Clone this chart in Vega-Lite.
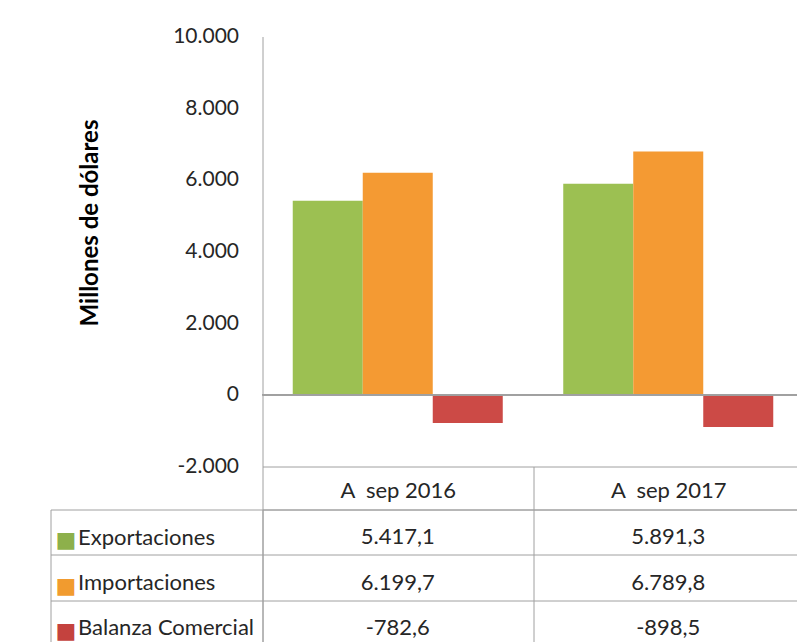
{
  "$schema": "https://vega.github.io/schema/vega-lite/v6.json",
  "autosize": {"type": "pad"},
  "padding": {"left": 49.5, "top": 25.5, "right": -7, "bottom": -4},
  "background": "white",
  "bounds": "flush",
  "spacing": 43,
  "datasets": {
    "trade": [
      {"periodo": "A\u00a0 sep 2016", "serie": "Exportaciones", "valor": 5417.1},
      {"periodo": "A\u00a0 sep 2016", "serie": "Importaciones", "valor": 6199.7},
      {"periodo": "A\u00a0 sep 2016", "serie": "Balanza Comercial", "valor": -782.6},
      {"periodo": "A\u00a0 sep 2017", "serie": "Exportaciones", "valor": 5891.3},
      {"periodo": "A\u00a0 sep 2017", "serie": "Importaciones", "valor": 6789.8},
      {"periodo": "A\u00a0 sep 2017", "serie": "Balanza Comercial", "valor": -898.5}
    ]
  },
  "vconcat": [
    {
      "width": 541,
      "height": 430,
      "view": {"stroke": null},
      "data": {"name": "trade"},
      "layer": [
        {
          "mark": {"type": "bar"},
          "encoding": {
            "x": {
              "field": "periodo", "type": "nominal",
              "scale": {"paddingInner": 0, "paddingOuter": 0},
              "axis": {
                "orient": "bottom", "title": null, "domain": true, "domainColor": "#a0a0a0",
                "ticks": true, "tickBand": "extent", "tickSize": 43, "tickColor": "#a0a0a0",
                "labelPadding": -19, "labelBaseline": "middle", "labelFontSize": 22,
                "labelColor": "#262626", "labelAngle": 0, "grid": false
              }
            },
            "xOffset": {
              "field": "serie", "type": "nominal",
              "sort": ["Exportaciones", "Importaciones", "Balanza Comercial"],
              "scale": {"paddingInner": 0, "paddingOuter": 0.432}
            },
            "y": {
              "field": "valor", "type": "quantitative",
              "scale": {"domain": [-2000, 10000], "nice": false, "zero": false},
              "axis": {
                "values": [-2000, 0, 2000, 4000, 6000, 8000, 10000],
                "format": ",.0f", "ticks": false, "domain": true, "domainColor": "#a0a0a0",
                "grid": false, "labelPadding": 24, "labelFontSize": 21, "labelColor": "#262626",
                "title": "Millones de dólares", "titleFontSize": 24, "titleFontWeight": "bold",
                "titleColor": "#000000", "titleX": -172, "titleY": 186,
                "titleBaseline": "middle", "titleAlign": "center", "titleAngle": -90
              }
            },
            "color": {
              "field": "serie", "type": "nominal",
              "scale": {
                "domain": ["Exportaciones", "Importaciones", "Balanza Comercial"],
                "range": ["#9cc052", "#f49a33", "#cc4a46"]
              },
              "legend": null
            }
          }
        },
        {
          "mark": {"type": "rule", "color": "#a0a0a0", "strokeWidth": 1.5},
          "encoding": {"y": {"datum": 0}}
        }
      ]
    },
    {
      "width": 541,
      "height": 136,
      "view": {"stroke": "#a0a0a0"},
      "data": {"name": "trade"},
      "layer": [
        {
          "mark": {"type": "text", "fontSize": 22, "color": "#262626", "dy": 5},
          "encoding": {
            "x": {
              "field": "periodo", "type": "nominal",
              "scale": {"paddingInner": 0, "paddingOuter": 0},
              "axis": {
                "orient": "top", "labels": false, "ticks": false, "domain": false,
                "title": null, "grid": true, "tickBand": "extent", "gridColor": "#a0a0a0"
              }
            },
            "y": {
              "field": "serie", "type": "nominal",
              "sort": ["Exportaciones", "Importaciones", "Balanza Comercial"],
              "scale": {"paddingInner": 0, "paddingOuter": 0},
              "axis": {
                "orient": "left", "title": null, "domain": false, "ticks": true,
                "tickBand": "extent", "tickSize": 212, "tickColor": "#a0a0a0",
                "labelAlign": "left", "labelPadding": -27, "labelOffset": 5,
                "labelFontSize": 22, "labelColor": "#262626", "labelLimit": 400,
                "grid": true, "gridColor": "#a0a0a0"
              }
            },
            "text": {"field": "valor", "type": "quantitative", "format": ",.1f"}
          }
        },
        {
          "mark": {"type": "text", "text": ""},
          "encoding": {
            "y": {
              "field": "serie", "type": "nominal",
              "sort": ["Exportaciones", "Importaciones", "Balanza Comercial"],
              "axis": {
                "orient": "left", "offset": 212, "title": null, "domain": true,
                "domainColor": "#a0a0a0", "ticks": false, "grid": false,
                "labelExpr": "'■'", "labelAlign": "left", "labelPadding": -4.5,
                "labelOffset": 8, "labelFont": "DejaVu Sans", "labelFontSize": 22,
                "labelColor": {
                  "condition": [
                    {"test": "datum.value == 'Exportaciones'", "value": "#8db04b"},
                    {"test": "datum.value == 'Importaciones'", "value": "#f19b2f"}
                  ],
                  "value": "#c4423e"
                }
              }
            }
          }
        }
      ],
      "resolve": {"axis": {"y": "independent"}}
    }
  ],
  "config": {
    "font": "Lato",
    "axis": {"labelFont": "Lato", "titleFont": "Lato"},
    "text": {"font": "Lato"},
    "locale": {
      "number": {"decimal": ",", "thousands": ".", "grouping": [3], "currency": ["", ""], "minus": "-"}
    }
  }
}
